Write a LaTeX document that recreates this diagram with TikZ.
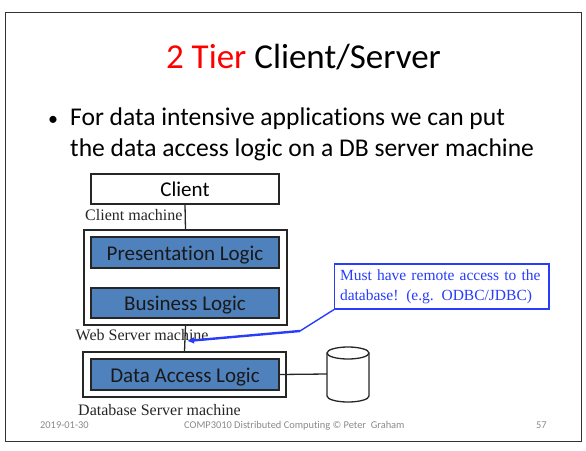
\documentclass[tikz,border=0pt]{standalone}
\usepackage{fontspec}
\usetikzlibrary{arrows.meta}
\setmainfont[Ligatures=NoCommon]{Carlito}
\newfontfamily\serifx{Liberation Serif}
\definecolor{logicblue}{RGB}{79,129,189}
\definecolor{callblue}{RGB}{40,60,250}
\definecolor{footgray}{RGB}{137,137,137}
\tikzset{
  frame/.style={draw=black!80,line width=0.9pt},
  boxx/.style={draw=black!85,line width=1.3pt,inner sep=0pt},
  logic/.style={boxx,fill=logicblue,font=\fontsize{21}{24}\selectfont,text=black!90,text height=18pt,text depth=3pt},
  caption/.style={font=\serifx\fontsize{16}{18}\selectfont,text=black!85,inner sep=0pt,anchor=base west},
  foot/.style={font=\fontsize{10.4}{12}\selectfont,text=footgray,inner sep=0pt,anchor=base west},
  conn/.style={draw=black!85,line width=1.3pt},
  body/.style={font=\fontsize{25.55}{31}\selectfont,inner sep=0pt,anchor=base west}
}
\begin{document}
\begin{tikzpicture}[x=1pt,y=-1pt]
\useasboundingbox (0,0) rectangle (586,450);
\node[frame,minimum width=575.5pt,minimum height=429pt,inner sep=0pt] (slide) at (293.25,226.5) {};
\node[font=\fontsize{35}{40}\selectfont,inner sep=0pt,anchor=base] (title) at (303.5,68.5) {\textcolor{red}{2 Tier} Client/Server};
\node[font=\fontsize{20}{24}\selectfont,inner sep=0pt,anchor=base west] (bullet) at (48,125) {•};
\node[body] (line1) at (70,125.5) {For data intensive applications we can put};
\node[body] (line2) at (70,156.5) {the data access logic on a DB server machine};
\node[boxx,minimum width=188pt,minimum height=30pt,font=\fontsize{21}{24}\selectfont,text height=18pt,text depth=3pt] (client) at (185,189) {Client};
\node[boxx,minimum width=203pt,minimum height=95pt] (web) at (185.5,277.5) {};
\node[logic,minimum width=188pt,minimum height=31pt] (pres) at (185,252.5) {Presentation Logic};
\node[logic,minimum width=188pt,minimum height=30pt] (bus) at (185,303) {Business Logic};
\node[boxx,minimum width=203pt,minimum height=45pt] (dbm) at (184.5,374.5) {};
\node[logic,minimum width=188pt,minimum height=31pt] (dal) at (185,374.5) {Data Access Logic};
\draw[conn] (client.south) -- (web.north);
\draw[conn] (web.south) -- (dbm.north);
% cylinder
\coordinate (cylw) at (327,374);
\draw[conn,fill=white] (327,353) -- (327,396) arc[start angle=180,end angle=360,x radius=21pt,y radius=6pt] -- (369,353) arc[start angle=0,end angle=180,x radius=21pt,y radius=6pt] -- cycle;
\draw[conn] (327,353) arc[start angle=180,end angle=360,x radius=21pt,y radius=6pt];
\draw[conn] (dal.east) -- (cylw);
\node[caption] (c1) at (85,220) {Client machine};
\node[caption] (c2) at (75.5,340) {Web Server machine};
\node[caption] (c3) at (78,415) {Database Server machine};
\node[draw=callblue,line width=1.2pt,fill=white,text=callblue,minimum width=214.5pt,minimum height=45pt,inner ysep=0pt,inner xsep=5.5pt,text width=203.5pt,font=\serifx\fontsize{15.5}{20}\selectfont,align=left] (call) at (441.75,286.5) {\makebox[203.5pt][l]{Must have remote access to the}\\\makebox[203.5pt][l]{database! (e.g. ODBC/JDBC)}};
\coordinate (bend) at (300,331);
\coordinate (tip) at (187,341);
\draw[draw=callblue,line width=1.4pt] (call.south west) -- (bend);
\draw[draw=callblue,line width=2.4pt,-{Latex[length=7pt,width=7pt]}] (bend) -- (tip);
\node[foot] (f1) at (40,428) {2019-01-30};
\node[foot] (f2) at (184,428) {COMP3010 Distributed Computing © Peter\ \ Graham};
\node[foot] (f3) at (536,428) {57};
\end{tikzpicture}
\end{document}
